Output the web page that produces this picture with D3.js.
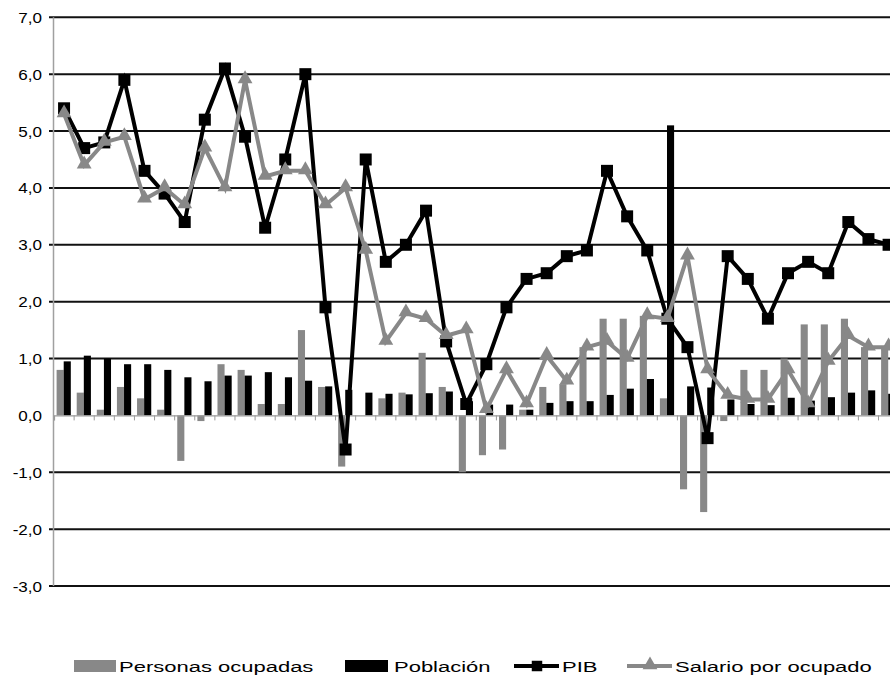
<!DOCTYPE html>
<html>
<head>
<meta charset="utf-8">
<script src="https://cdn.jsdelivr.net/npm/d3@7"></script>
<style>
  body { margin: 0; background: #fff; }
  text { font-family: "Liberation Sans", Arial, sans-serif; fill: #000; }
</style>
</head>
<body>
<div id="chart"></div>
<script>
// periodos (sin etiquetas en el eje)
var periodos = d3.range(42);
var personasOcupadas = [0.8,0.4,0.1,0.5,0.3,0.1,-0.8,-0.1,0.9,0.8, 0.2,0.2,1.5,0.5,-0.9,0,0.3,0.4,1.1,0.5,
  -1.0,-0.7,-0.6,0.1,0.5,0.55,1.2,1.7,1.7,1.75, 0.3,-1.3,-1.7,-0.1,0.8,0.8,1.0,1.6,1.6,1.7,1.2,1.2];
var poblacion = [0.95,1.05,1.0,0.9,0.9,0.8,0.67,0.6,0.7,0.7, 0.76,0.67,0.61,0.51,0.45,0.4,0.38,0.37,0.39,0.42,
  0.25,0.19,0.19,0.1,0.22,0.25,0.25,0.36,0.47,0.64, 5.1,0.51,0.49,0.28,0.2,0.18,0.31,0.26,0.32,0.4,0.44,0.38];
var pib = [5.4,4.7,4.8,5.9,4.3,3.9,3.4,5.2,6.1,4.9, 3.3,4.5,6.0,1.9,-0.6,4.5,2.7,3.0,3.6,1.3,
  0.2,0.9,1.9,2.4,2.5,2.8,2.9,4.3,3.5,2.9, 1.7,1.2,-0.4,2.8,2.4,1.7,2.5,2.7,2.5,3.4,3.1,3.0];
var salario = [5.3,4.4,4.8,4.9,3.8,4.0,3.7,4.7,4.0,5.9, 4.2,4.3,4.3,3.7,4.0,2.9,1.3,1.8,1.7,1.4,
  1.5,0.1,0.8,0.2,1.05,0.6,1.2,1.3,1.0,1.75, 1.7,2.8,0.8,0.35,0.28,0.28,0.8,0.2,0.95,1.4,1.2,1.2];
var yTicks = [-3,-2,-1,0,1,2,3,4,5,6,7];
var leyenda = ["Personas ocupadas", "Población", "PIB", "Salario por ocupado"];

var gris = "#888888";
var W = 890, H = 676;

var svg = d3.select("#chart").append("svg")
  .attr("width", W).attr("height", H);

var x = d3.scaleBand().domain(periodos).range([54, 54 + 42 * 20.11]);
var xSub = d3.scaleBand().domain(["ocupadas", "poblacion"]).range([2.6, 16.8]);
var y = d3.scaleLinear().domain([-3, 7]).range([586, 17.3]);

// lineas de division
svg.append("g").selectAll("line")
  .data(yTicks.filter(function(t){ return t !== 0; }))
  .enter().append("line")
  .attr("x1", 49).attr("x2", W)
  .attr("y1", function(d){ return y(d); })
  .attr("y2", function(d){ return y(d); })
  .attr("stroke", "#111").attr("stroke-width", 2);

// etiquetas eje y (coma decimal, guion normal)
svg.append("g").selectAll("text")
  .data(yTicks).enter().append("text")
  .attr("transform", function(d){ return "translate(42," + (y(d) + 5.5) + ") scale(1.1,1)"; })
  .attr("text-anchor", "end")
  .style("font-size", "15.5px")
  .text(function(d){ return d.toFixed(1).replace(".", ","); });

// barras
var barras = svg.append("g");
barras.selectAll("rect.ocup").data(personasOcupadas).enter().append("rect")
  .attr("x", function(d, i){ return x(i) + xSub("ocupadas"); })
  .attr("width", xSub.bandwidth())
  .attr("y", function(d){ return y(Math.max(0, d)); })
  .attr("height", function(d){ return Math.abs(y(d) - y(0)); })
  .attr("fill", gris);
barras.selectAll("rect.pob").data(poblacion).enter().append("rect")
  .attr("x", function(d, i){ return x(i) + xSub("poblacion"); })
  .attr("width", xSub.bandwidth())
  .attr("y", function(d){ return y(Math.max(0, d)); })
  .attr("height", function(d){ return Math.abs(y(d) - y(0)); })
  .attr("fill", "#000");

// eje x en cero con marcas
var ejeX = d3.axisBottom(x).tickSize(5).tickFormat("");
var gx = svg.append("g").attr("transform", "translate(0," + y(0) + ")").call(ejeX);
gx.select(".domain").attr("stroke", "#999").attr("stroke-width", 1.2);
gx.selectAll(".tick line").attr("stroke", "#999")
  .attr("transform", "translate(" + (-x.bandwidth() / 2) + ",0)");

// eje y
svg.append("line")
  .attr("x1", 53.5).attr("x2", 53.5)
  .attr("y1", y(7)).attr("y2", y(-3))
  .attr("stroke", "#a0a0a0").attr("stroke-width", 1.5);

var cx = function(i){ return x(i) + x.bandwidth() / 2; };
var linea = d3.line().x(function(d, i){ return cx(i); }).y(function(d){ return y(d); });

// PIB
svg.append("path").datum(pib)
  .attr("d", linea).attr("fill", "none")
  .attr("stroke", "#000").attr("stroke-width", 4).attr("stroke-linejoin", "miter");
svg.append("g").selectAll("path").data(pib).enter().append("path")
  .attr("d", d3.symbol(d3.symbolSquare, 144))
  .attr("transform", function(d, i){ return "translate(" + cx(i) + "," + y(d) + ")"; })
  .attr("fill", "#000");

// Salario por ocupado
svg.append("path").datum(salario)
  .attr("d", linea).attr("fill", "none")
  .attr("stroke", gris).attr("stroke-width", 4);
svg.append("g").selectAll("path").data(salario).enter().append("path")
  .attr("d", d3.symbol(d3.symbolTriangle, 95))
  .attr("transform", function(d, i){ return "translate(" + cx(i) + "," + (y(d) - 1) + ")"; })
  .attr("fill", gris);

// leyenda
var ley = svg.append("g");
var base = 672;
ley.append("rect").attr("x", 74).attr("y", 660).attr("width", 42).attr("height", 12).attr("fill", gris);
ley.append("rect").attr("x", 345).attr("y", 660).attr("width", 43).attr("height", 12).attr("fill", "#000");
ley.append("line").attr("x1", 514).attr("x2", 559).attr("y1", 666).attr("y2", 666)
  .attr("stroke", "#000").attr("stroke-width", 4);
ley.append("path").attr("d", d3.symbol(d3.symbolSquare, 110))
  .attr("transform", "translate(537,666)").attr("fill", "#000");
ley.append("line").attr("x1", 627).attr("x2", 672).attr("y1", 666).attr("y2", 666)
  .attr("stroke", gris).attr("stroke-width", 4);
ley.append("path").attr("d", d3.symbol(d3.symbolTriangle, 95))
  .attr("transform", "translate(650,665)").attr("fill", gris);

var posTexto = [119, 394, 562, 675];
ley.selectAll("text").data(leyenda).enter().append("text")
  .attr("transform", function(d, i){ return "translate(" + posTexto[i] + "," + base + ") scale(1.42,1)"; })
  .style("font-size", "15.5px")
  .text(function(d){ return d; });
</script>
</body>
</html>
